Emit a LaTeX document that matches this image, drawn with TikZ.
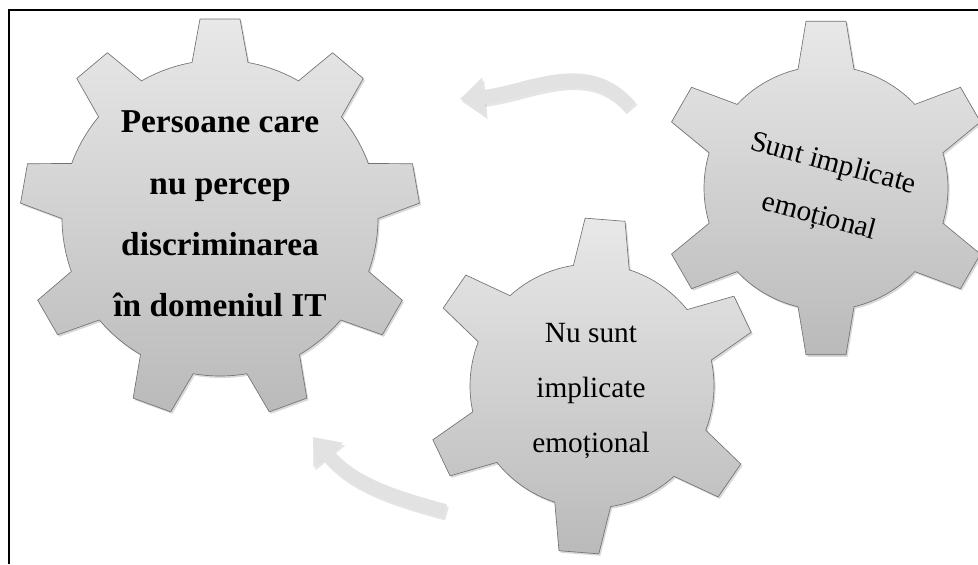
\documentclass[tikz,border=0pt]{standalone}
\usepackage{fontspec}
\setmainfont{Liberation Serif}
\usetikzlibrary{arrows.meta,calc,shadows}
\definecolor{gearTop}{RGB}{232,232,232}
\definecolor{gearBot}{RGB}{186,186,186}
\definecolor{flowgray}{RGB}{226,226,226}
\tikzset{
    gearbody/.style={draw=black!55, line width=0.5pt,
                     top color=gearTop, bottom color=gearBot,
                     drop shadow={shadow xshift=1.2pt, shadow yshift=-1.5pt, opacity=.3}},
    bigtext/.style={align=center, font=\fontsize{25}{46}\selectfont\bfseries},
    smalltext/.style={align=center, font=\fontsize{22}{41}\selectfont},
    flow/.style={draw=flowgray, line width=10.5pt, -{Triangle[width=28pt,length=18pt]}},
    flowshadow/.style={draw=black, opacity=.1, line width=10.5pt,
                       -{Triangle[width=28pt,length=18pt]},
                       transform canvas={shift={(1.5pt,-2pt)}}}
}
% centre, teeth, root radius, tip radius, angle of first tooth
\newcommand{\gearpath}[5]{%
  \pgfmathsetmacro{\gstep}{360/#2}%
  \pgfmathsetmacro{\gba}{asin(28/#3)}%
  \pgfmathsetmacro{\gta}{asin(20/#4)}%
  \path[gearbody] ($(#1)+({#5-\gba}:#3)$)
    \foreach \k [evaluate=\k as \ga using #5+(\k-1)*\gstep] in {1,...,#2}{
      -- ($(#1)+({\ga-\gba}:#3)$) -- ($(#1)+({\ga-\gta}:#4)$)
      -- ($(#1)+({\ga+\gta}:#4)$) -- ($(#1)+({\ga+\gba}:#3)$)
      arc[start angle=\ga+\gba, end angle=\ga+\gstep-\gba, radius=#3*0.75pt]
    } -- cycle;}

\begin{document}
\begin{tikzpicture}[x=0.75pt, y=0.75pt]
  \useasboundingbox (0,0) rectangle (978,-564);
  \draw[line width=1.5pt] (9,-564) -- (9,-9.5) -- (978,-9.5);

  \coordinate (gR) at (826,-188);
  \coordinate (gM) at (592,-386);
  \coordinate (gL) at (220,-218);
  \gearpath{gR}{6}{122}{168}{90}
  \gearpath{gM}{6}{122}{168}{85.5}
  \gearpath{gL}{9}{158}{200}{90}

  \node (L) at (220,-214) [bigtext] {Persoane care\\nu percep\\discriminarea\\în domeniul IT};
  \node (M) at (591,-391) [smalltext] {Nu sunt\\implicate\\emoțional};
  \node (R) at (826,-191) [smalltext, rotate=-15] {Sunt implicate\\emoțional};

  \coordinate (a1) at (630,-107);
  \coordinate (a2) at (460,-99);
  \coordinate (b1) at (445,-511);
  \coordinate (b2) at (313,-437);
  \draw[flowshadow] (a1) to[out=130,in=5] (a2);
  \draw[flow] (a1) to[out=130,in=5] (a2);
  \draw[flowshadow] (b1) to[out=165,in=-50] (b2);
  \draw[flow] (b1) to[out=165,in=-50] (b2);
\end{tikzpicture}
\end{document}
